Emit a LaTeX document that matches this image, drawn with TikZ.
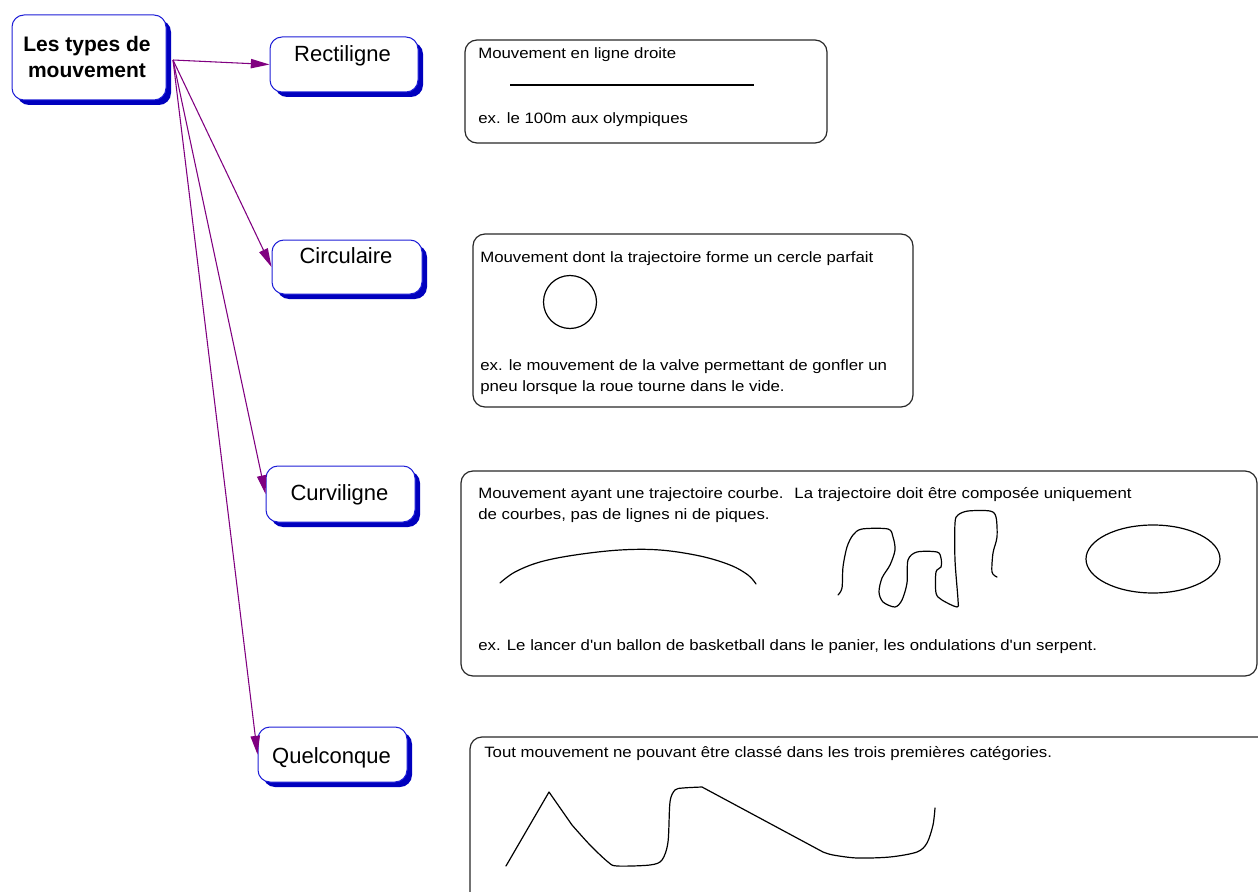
\documentclass[tikz,border=0pt]{standalone}
\usepackage{fontspec}
\setmainfont{Liberation Sans}
\newfontfamily\descfont[FakeStretch=1.12]{Liberation Sans}
\usetikzlibrary{arrows.meta,shadows}
\definecolor{edgeblue}{RGB}{30,30,215}
\definecolor{shadeblue}{RGB}{0,0,190}
\definecolor{arrowpurple}{RGB}{128,0,128}
\definecolor{boxgray}{RGB}{40,40,40}
\begin{document}
\begin{tikzpicture}[x=0.75pt,y=-0.75pt,
  lblbox/.style={draw=edgeblue,line width=0.75pt,fill=white,rounded corners=9pt,inner sep=0pt,
    drop shadow={shadow xshift=3.75pt,shadow yshift=-3.75pt,fill=shadeblue,opacity=1}},
  descbox/.style={draw=boxgray,line width=0.9pt,rounded corners=9pt,inner sep=0pt},
  desctext/.style={anchor=base west,inner sep=0pt,font=\descfont\fontsize{11.25}{15.75}\selectfont},
  lbltext/.style={anchor=base,inner sep=0pt,font=\fontsize{16.5}{20}\selectfont},
  titletext/.style={anchor=base,inner sep=0pt,font=\bfseries\fontsize{15.75}{19.5}\selectfont},
  conn/.style={draw=arrowpurple,line width=0.8pt,-{Triangle[length=14pt,width=7pt]}},
  doodle/.style={draw=black,line width=0.9pt,line join=round,line cap=round}]
\path[use as bounding box] (0,0) rectangle (1258,892);
\clip (0,0) rectangle (1258,892);

% label boxes
\node[lblbox,minimum width=115.5pt,minimum height=63.75pt] (main) at (89,57.5) {};
\node[lblbox,minimum width=111pt,minimum height=41.25pt] (rect) at (344,64.5) {};
\node[lblbox,minimum width=112.5pt,minimum height=40.5pt] (circ) at (347,267) {};
\node[lblbox,minimum width=111.75pt,minimum height=42pt] (curv) at (340.5,494) {};
\node[lblbox,minimum width=111.75pt,minimum height=41.25pt] (quel) at (332.5,754.5) {};

\node[titletext] (t1) at (87,52) {Les types de};
\node[titletext] (t2) at (87,78) {mouvement};
\node[lbltext] (lr) at (342.5,62) {Rectiligne};
\node[lbltext] (lc) at (346,263) {Circulaire};
\node[lbltext] (lv) at (339.5,500) {Curviligne};
\node[lbltext] (lq) at (331.5,763) {Quelconque};

% connectors
\coordinate (src) at (173,60);
\draw[conn] (src) -- (rect.west);
\draw[conn] (src) -- (circ.west);
\draw[conn] (src) -- (curv.west);
\draw[conn] (src) -- (quel.west);

% description boxes
\node[descbox,minimum width=271.5pt,minimum height=77.25pt] (b1) at (646,91.5) {};
\node[descbox,minimum width=330pt,minimum height=129.75pt] (b2) at (693,320.5) {};
\node[descbox,minimum width=597pt,minimum height=153.75pt] (b3) at (859,573.5) {};
\node[descbox,minimum width=607.5pt,minimum height=137.25pt] (b4) at (875,828.5) {};

% box 1
\node[desctext] (d11) at (478,59) {Mouvement en ligne droite};
\draw[doodle,line cap=butt] (510,85) -- (754,85);
\node[desctext] (d12) at (478,123) {ex. le 100m aux olympiques};

% box 2
\node[desctext] (d21) at (480,262) {Mouvement dont la trajectoire forme un cercle parfait};
\draw[doodle] (570,302) circle [radius=26.5];
\node[desctext] (d22) at (480,370) {ex. le mouvement de la valve permettant de gonfler un};
\node[desctext] (d23) at (480,391) {pneu lorsque la roue tourne dans le vide.};

% box 3
\node[desctext] (d31) at (478,498) {Mouvement ayant une trajectoire courbe.~ La trajectoire doit être composée uniquement};
\node[desctext] (d32) at (478,519) {de courbes, pas de lignes ni de piques.};
\draw[doodle] plot[smooth,tension=0.6] coordinates {(500,583) (515,572) (540,562) (575,555) (620,550) (660,550) (700,556) (730,565) (748,575) (756,584)};
\draw[doodle] plot[smooth,tension=0.5] coordinates {(838,595) (842,588) (843,567) (847,547) (853,535) (862,529) (888,529) (893,537) (895,550) (890,565) (882,578) (879,592) (883,602) (895,607) (902,600) (907,583) (908,560) (917,552) (937,552) (941,558) (941,567) (936,572) (936,593) (942,600) (957,607) (958,600) (955,560) (955,523) (958,515) (968,511) (990,511) (996,517) (997,537) (993,553) (992,572) (997,577)};
\draw[doodle] (1153,559) ellipse [x radius=67, y radius=34];
\node[desctext] (d33) at (478,650) {ex. Le lancer d'un ballon de basketball dans le panier, les ondulations d'un serpent.};

% box 4
\node[desctext] (d41) at (484,757) {Tout mouvement ne pouvant être classé dans les trois premières catégories.};
\draw[doodle] (506,866) -- (549,792) -- (572,825)
  plot[smooth,tension=0.5] coordinates {(572,825) (590,845) (608,862) (617,866) (650,865) (662,860) (668,842) (670,802) (675,790) (683,788) (702,787)}
  -- (823,852)
  plot[smooth,tension=0.5] coordinates {(823,852) (833,855) (857,858) (890,857) (917,852) (927,843) (933,825) (935,808)};
\end{tikzpicture}
\end{document}
